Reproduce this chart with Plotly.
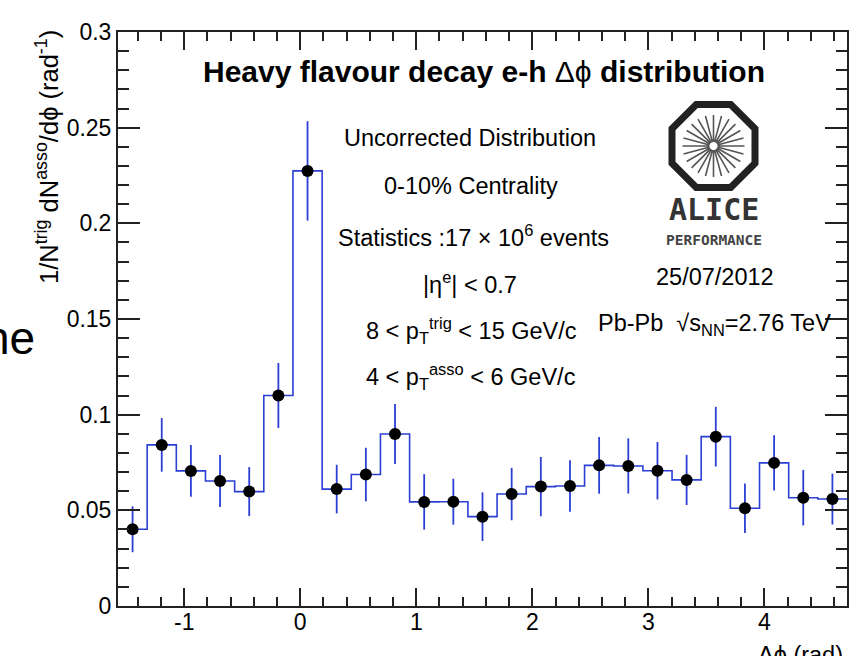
import math
import plotly.graph_objects as go

# ---------------- data ----------------
bin_centers = [-1.4451, -1.1938, -0.9425, -0.6912, -0.4398, -0.1885, 0.0628,
               0.3142, 0.5655, 0.8168, 1.0681, 1.3195, 1.5708, 1.8221, 2.0735,
               2.3248, 2.5761, 2.8274, 3.0788, 3.3301, 3.5814, 3.8327, 4.0841,
               4.3354, 4.5867]
dn_dphi = [0.0401, 0.0842, 0.0706, 0.0653, 0.0598, 0.1100, 0.2274, 0.0611,
           0.0687, 0.0899, 0.0544, 0.0545, 0.0467, 0.0585, 0.0624, 0.0627,
           0.0735, 0.0732, 0.0707, 0.0659, 0.0885, 0.0511, 0.0748, 0.0566,
           0.0559]
dn_dphi_err = [0.0120, 0.0140, 0.0135, 0.0136, 0.0128, 0.0170, 0.0260, 0.0127,
               0.0140, 0.0157, 0.0145, 0.0120, 0.0127, 0.0137, 0.0155, 0.0135,
               0.0148, 0.0144, 0.0150, 0.0131, 0.0156, 0.0129, 0.0144, 0.0145,
               0.0133]
x_tickvals = [-1, 0, 1, 2, 3, 4]
x_ticktext = ["-1", "0", "1", "2", "3", "4"]
x_range = [-math.pi / 2, 3 * math.pi / 2]
y_range = [0, 0.3]

# ---------------- layout geometry ----------------
W, H = 863, 656
ML, MR, MT, MB = 118, 16, 32, 50
PW, PH = W - ML - MR, H - MT - MB


def px(x):
    return (x - ML) / PW


def py(y):
    return (H - MB - y) / PH


FONT = "Liberation Sans, Arial, Helvetica, sans-serif"
BLUE = "#2b3fd4"

# step histogram from bin edges
half = (bin_centers[1] - bin_centers[0]) / 2
edges = [c - half for c in bin_centers] + [bin_centers[-1] + half]
step_y = dn_dphi + [dn_dphi[-1]]

fig = go.Figure()
fig.add_trace(go.Scatter(x=edges, y=step_y, mode="lines", line_shape="hv",
                         line=dict(color=BLUE, width=1.6), hoverinfo="skip",
                         showlegend=False))
fig.add_trace(go.Scatter(x=bin_centers, y=dn_dphi, mode="markers",
                         marker=dict(color="black", size=12),
                         error_y=dict(type="data", array=dn_dphi_err,
                                      color=BLUE, thickness=1.8, width=0),
                         showlegend=False))

axis_common = dict(showgrid=False, zeroline=False, showline=True,
                   linecolor="#222", linewidth=2, mirror="ticks",
                   ticks="inside", tickcolor="#222", tickwidth=1.5,
                   tickfont=dict(family=FONT, size=23, color="black"))

fig.update_xaxes(range=x_range, tickmode="array", tickvals=x_tickvals,
                 ticktext=x_ticktext, ticklen=18, ticklabelstandoff=-6,
                 minor=dict(tickmode="linear", tick0=0, dtick=0.2, ticklen=9,
                            ticks="inside", tickcolor="#222", tickwidth=1.5),
                 **axis_common)
fig.update_yaxes(range=y_range, tickmode="linear", tick0=0, dtick=0.05,
                 ticklen=22,
                 minor=dict(tickmode="linear", tick0=0, dtick=0.01, ticklen=11,
                            ticks="inside", tickcolor="#222", tickwidth=1.5),
                 **axis_common)

ann = []


def text(x, y, s, size=23.5, xanchor="center", yanchor="middle",
         color="black", family=FONT, angle=0):
    ann.append(dict(x=px(x), y=py(y), xref="paper", yref="paper", text=s,
                    showarrow=False, xanchor=xanchor, yanchor=yanchor,
                    textangle=angle,
                    font=dict(family=family, size=size, color=color)))


text(484, 71, "<b>Heavy flavour decay e-h </b>Δϕ<b> distribution</b>", size=30)
text(470, 138, "Uncorrected Distribution")
text(471, 186, "0-10% Centrality")
text(473, 236, "Statistics :17 × 10<sup>6</sup> events")
text(470, 283, "|η<sup>e</sup>| < 0.7")
text(471, 330, "8 < p<sub>T</sub><sup>trig</sup> < 15 GeV/c")
text(471, 376, "4 < p<sub>T</sub><sup>asso</sup> < 6 GeV/c")
text(715, 277, "25/07/2012")
text(714, 324, "Pb-Pb  √s<sub>NN</sub>=2.76 TeV")
text(845, 640, "Δϕ (rad)", xanchor="right", yanchor="top")
text(47, 157, "1/N<sup>trig</sup> dN<sup>asso</sup>/dϕ (rad<sup>-1</sup>)",
     size=25.5, angle=-90)
text(37, 338, "ne", size=46, xanchor="right")

# ALICE logo
text(714, 209, "<b>ALICE</b>", size=30, family="DejaVu Sans Mono",
     color="#333")
text(714, 240, "<b>PERFORMANCE</b>", size=14.5, family="DejaVu Sans Mono",
     color="#444")

shapes = []
cx, cy, ap = 713.5, 146, 41.5
R = ap / math.cos(math.pi / 8)
pts = []
for k in range(8):
    a = math.pi / 8 + k * math.pi / 4
    pts.append((cx + R * math.cos(a), cy + R * math.sin(a)))
path = "M " + " L ".join(f"{px(x):.5f},{py(y):.5f}" for x, y in pts) + " Z"
shapes.append(dict(type="path", path=path, xref="paper", yref="paper",
                   line=dict(color="#222", width=7)))
spokes = []
for k in range(24):
    a = k * 2 * math.pi / 24
    x0, y0 = cx + 4 * math.cos(a), cy + 4 * math.sin(a)
    x1, y1 = cx + 31 * math.cos(a), cy + 31 * math.sin(a)
    spokes.append(f"M {px(x0):.5f},{py(y0):.5f} L {px(x1):.5f},{py(y1):.5f}")
shapes.append(dict(type="path", path=" ".join(spokes), xref="paper",
                   yref="paper", line=dict(color="#555", width=1.6)))

fig.update_layout(width=W, height=H, margin=dict(l=ML, r=MR, t=MT, b=MB),
                  paper_bgcolor="white", plot_bgcolor="white",
                  annotations=ann, shapes=shapes, showlegend=False,
                  font=dict(family=FONT))

fig.write_html("out.html")
